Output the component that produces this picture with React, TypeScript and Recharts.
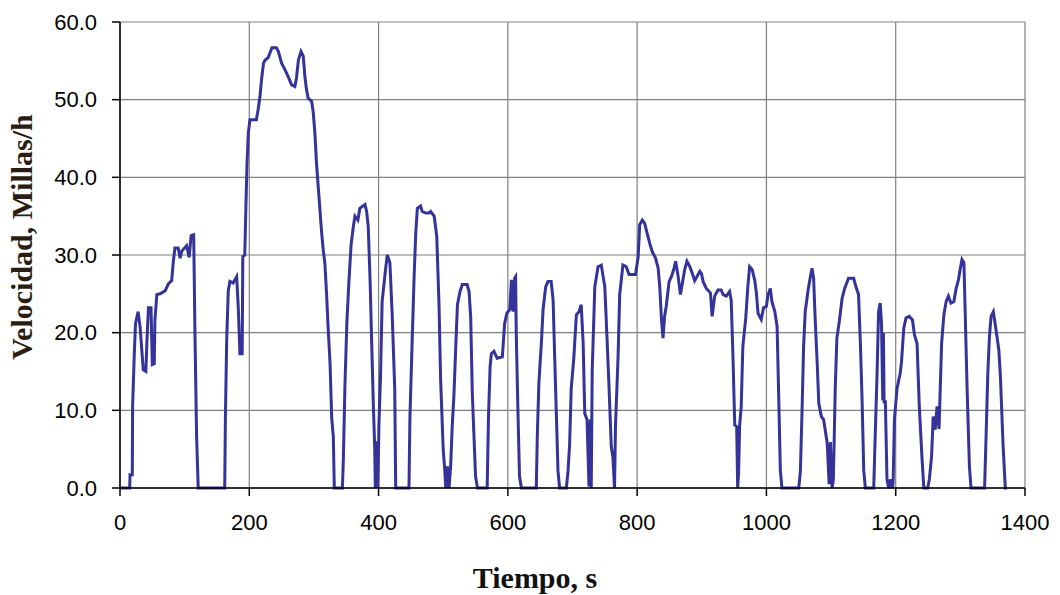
import { LineChart, Line, XAxis, YAxis, CartesianGrid, Label } from 'recharts';

// tiempo (s) y velocidad (mph)
const tiempo = [
  0, 15, 15.5, 19, 19.5, 22, 24, 28, 31, 36, 40, 41.5, 44, 48, 50, 53, 54, 57, 62, 70,
  75, 80, 82.5, 85, 90, 93, 95.5, 103, 107, 110, 114, 116, 118.5, 121, 162, 163, 165, 167.5, 170, 175,
  180.5, 183, 185.5, 189, 190, 193, 195, 196.5, 198.5, 201, 211, 214, 216.5, 219, 222, 224.5, 229, 232, 235, 242,
  245, 250, 255, 260, 265.5, 270.5, 273, 276, 280, 283.5, 286, 288.5, 291, 296.5, 299, 301.5, 304, 308, 312, 314.5,
  317, 319.5, 322, 325, 327.5, 330, 331.5, 344, 345.5, 348, 351, 354, 357.5, 361, 363.5, 368, 371, 379, 381.5, 384,
  387, 389.5, 392, 394, 395, 397, 399, 400.5, 403, 405.5, 411, 413.5, 417.5, 421, 425, 426.5, 447, 448.5, 452, 455,
  457.5, 460, 465, 467.5, 473, 478, 480.5, 486, 490, 493.5, 496, 500, 502, 504, 506.5, 509, 511.5, 514, 516.5, 519,
  522, 526, 529.5, 537, 540, 542.5, 545, 550, 553, 568, 570, 572.5, 574.5, 578.5, 583.5, 591.5, 595, 598.5, 603, 605.5,
  608, 610.5, 612, 613, 615.5, 618, 621, 644, 645.5, 648, 652, 654.5, 658.5, 662, 667, 670, 672.5, 675, 677.5, 680,
  690.5, 693, 695.5, 698, 702, 706, 710, 713.5, 716.5, 719, 722.5, 725.5, 727.5, 729, 730.5, 734.5, 739.5, 744.5, 750, 753.5,
  756.5, 760, 762.5, 765, 766.5, 770.5, 773, 778, 783, 787.5, 797.5, 801.5, 804, 808, 811.5, 815.5, 819.5, 823.5, 828.5, 832.5,
  835, 837.5, 840, 842.5, 845, 849.5, 853, 856.5, 859.5, 863, 867, 870, 873.5, 877, 881.5, 885.5, 889, 897, 899.5, 902,
  907, 913.5, 916, 920, 925, 930, 933, 938, 943, 945.5, 948, 951, 954, 955.5, 957, 958.5, 961, 963.5, 968, 971.5,
  974, 978, 982, 984.5, 987, 992, 995.5, 1000, 1002.5, 1006, 1008.5, 1013, 1016.5, 1019, 1021.5, 1024, 1050, 1052.5, 1055, 1057.5,
  1060, 1064.5, 1068, 1070.5, 1073, 1075.5, 1078.5, 1081, 1085, 1088.5, 1094, 1097, 1099, 1101.5, 1103.5, 1106.5, 1109, 1113, 1117, 1121,
  1127, 1135, 1138.5, 1142.5, 1145.5, 1148, 1150.5, 1153, 1166, 1167.5, 1171, 1173.5, 1176, 1178, 1180, 1181, 1182, 1184, 1186.5, 1189,
  1191.5, 1195, 1196, 1198, 1202, 1207, 1209, 1212.5, 1216, 1221, 1226, 1229, 1233, 1236.5, 1240.5, 1243.5, 1249.5, 1252, 1255.5, 1258,
  1261, 1264, 1267, 1271, 1274.5, 1278, 1281.5, 1285.5, 1290, 1293.5, 1297, 1300, 1302.5, 1305.5, 1307.5, 1310.5, 1314, 1316.5, 1337.5, 1340,
  1342.5, 1345, 1347.5, 1351, 1353, 1356, 1359.5, 1362, 1366, 1369.5, 1372,
];

const velocidad = [
  0, 0, 1.7, 1.7, 10.5, 17, 21.2, 22.7, 20.8, 15.2, 15, 18.6, 23.2, 23.2, 15.9, 16, 21.6, 24.9, 25, 25.4,
  26.3, 26.7, 29.2, 30.9, 30.9, 29.6, 30.5, 31.2, 29.7, 32.5, 32.6, 19.7, 6.6, 0, 0, 8.8, 18.9, 25.4, 26.6, 26.4,
  27.2, 23.2, 17.3, 17.3, 29.8, 30, 37, 41.8, 45.7, 47.4, 47.4, 48.9, 50.4, 52.6, 54.7, 55.1, 55.4, 56, 56.7, 56.7,
  56.2, 54.7, 53.9, 53, 51.9, 51.7, 52.8, 55.1, 56.2, 55.6, 53, 51.3, 50.2, 49.8, 48.3, 45.7, 41.8, 37.3, 32.8, 30.6,
  28.9, 25.1, 20.6, 15.9, 9, 6.6, 0, 0, 3.6, 13.3, 21.4, 26.4, 31.3, 33.7, 35, 34.5, 36, 36.5, 35.6, 33.7,
  26.4, 18.2, 10.5, 5.3, 0, 6, 0, 8, 14.3, 24, 28.3, 30, 29, 22.5, 12.8, 0, 0, 9, 19.1, 27.2,
  32.8, 36, 36.3, 35.6, 35.4, 35.4, 35.6, 35, 32.4, 23.6, 14, 4.9, 2.8, 0, 2.8, 0, 2.8, 8.1, 11.8, 17.3,
  23.6, 25.3, 26.2, 26.2, 25.3, 22, 12.2, 1.5, 0, 0, 9, 15.6, 17.3, 17.6, 16.7, 16.9, 21.2, 22.5, 23, 26.8,
  22.7, 27, 27.2, 19.9, 10.3, 1.5, 0, 0, 6.6, 13.5, 18.9, 23, 25.9, 26.6, 26.6, 24.2, 16.7, 9.6, 2.3, 0,
  0, 2.1, 5.5, 12.8, 16.7, 22.3, 22.7, 23.6, 18.6, 9.6, 8.8, 0.2, 8.8, 0, 15.2, 25.9, 28.5, 28.7, 25.9, 19.1,
  13, 5.3, 4, 0, 8, 16.9, 24.9, 28.7, 28.5, 27.5, 27.5, 29.7, 33.9, 34.5, 34.1, 32.8, 31.5, 30.4, 29.6, 28.3,
  25.9, 21.9, 19.3, 22.1, 23.4, 26.6, 27.2, 28.1, 29.2, 27.5, 24.9, 26.4, 28.1, 29.2, 28.5, 27.6, 26.7, 27.9, 27.6, 26.6,
  25.7, 25.1, 22.1, 24.7, 25.5, 25.5, 24.9, 24.7, 25.3, 24.2, 17.6, 8.1, 7.9, 0, 2, 8, 10.5, 18.2, 21.9, 26.2,
  28.5, 28.1, 26.7, 25.1, 22.5, 21.7, 23.2, 23.4, 24.9, 25.7, 24, 22.7, 20.8, 11.8, 2.3, 0, 0, 2.1, 9.6, 18.2,
  22.7, 25.5, 27.2, 28.3, 27, 21.6, 16.1, 10.9, 9.2, 8.8, 5.8, 0.5, 5.9, 0, 1, 13, 19.3, 21.6, 24.4, 25.7,
  27, 27, 25.9, 24.9, 18.2, 11.3, 2.3, 0, 0, 4.5, 14.3, 22.7, 23.8, 21.2, 11.3, 20, 11.1, 11.1, 1.1, 0,
  1.1, 0, 0.7, 8.8, 12.8, 14.8, 16.3, 20.6, 21.9, 22.1, 21.6, 19.7, 18.6, 10.5, 4.1, 0, 0, 1.1, 4.1, 9.2,
  7.5, 10.5, 7.6, 18.6, 22.3, 24, 24.7, 23.8, 24, 25.7, 26.8, 28.3, 29.4, 29, 22.5, 12.6, 2.8, 0, 0, 7.3,
  14.8, 19.5, 22.1, 22.7, 21.6, 19.9, 17.8, 14.3, 5.7, 0, 0,
];

const xTicks = [0, 200, 400, 600, 800, 1000, 1200, 1400];
const yTicks = [0, 10, 20, 30, 40, 50, 60];

const data = tiempo.map((t, i) => ({ t, v: velocidad[i] }));

const tickStyle = { fill: '#000', fontSize: 22, fontFamily: '"Liberation Sans", Arial, sans-serif' };
const titleFont = '"Liberation Serif", "Times New Roman", serif';

export default function App() {
  return (
    <div style={{ position: 'absolute', left: 0, top: 0, width: 1060, height: 595, background: '#fff' }}>
      <LineChart width={1060} height={595} data={data} margin={{ top: 22, right: 35, bottom: 47, left: 0 }}>
        <CartesianGrid stroke="#808080" strokeWidth={1.2} verticalValues={xTicks} horizontalValues={yTicks} />
        <XAxis
          dataKey="t" type="number" domain={[0, 1400]} ticks={xTicks} interval={0}
          height={60} tick={tickStyle} tickSize={8} tickMargin={18}
          stroke="#000" strokeWidth={1.5} tickLine={{ stroke: '#000' }}
        >
          <Label
            content={() => (
              <text x={535} y={588} textAnchor="middle" fontFamily={titleFont} fontWeight="bold" fontSize={30} fill="#111">
                Tiempo, s
              </text>
            )}
          />
        </XAxis>
        <YAxis
          type="number" domain={[0, 60]} ticks={yTicks} interval={0} width={120}
          tick={tickStyle} tickSize={8} tickMargin={15} tickFormatter={(v: number) => v.toFixed(1)}
          stroke="#000" strokeWidth={1.5} tickLine={{ stroke: '#000' }}
        >
          <Label
            content={() => (
              <text x={0} y={0} transform="translate(32, 237) rotate(-90)" textAnchor="middle"
                fontFamily={titleFont} fontWeight="bold" fontSize={30} fill="#2b1d12">
                Velocidad, Millas/h
              </text>
            )}
          />
        </YAxis>
        <Line
          type="linear" dataKey="v" stroke="#333399" strokeWidth={3} dot={false}
          isAnimationActive={false} strokeLinejoin="miter"
        />
      </LineChart>
    </div>
  );
}
